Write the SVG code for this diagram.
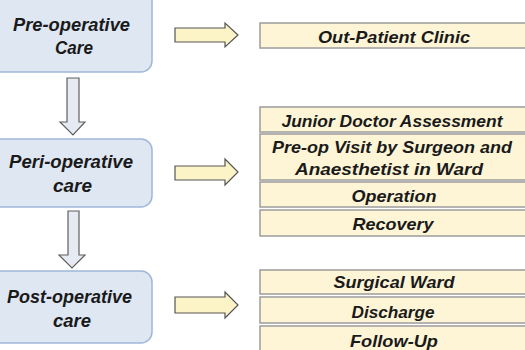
<svg xmlns="http://www.w3.org/2000/svg" width="525" height="350" viewBox="0 0 525 350">
  <style>
    .stage { fill: #dfe7f3; stroke: #9fb8d8; stroke-width: 1.5; }
    .step { fill: #fdf5d6; stroke: #9c9c9c; stroke-width: 1.5; }
    .fwd { fill: #fcf3c6; stroke: #555; stroke-width: 1.2; }
    .down { fill: #e6ebf3; stroke: #5f5f5f; stroke-width: 1.2; }
    text { font-family: "Liberation Sans", Arial, sans-serif; font-weight: bold; font-style: italic; font-size: 16.5px; fill: #1a1a1a; text-anchor: middle; }
    .stage-label { font-size: 17.5px; }
  </style>

  <!-- stages -->
  <g id="pre-operative">
    <rect class="stage" x="-10" y="-10" width="162" height="82" rx="11"/>
    <text class="stage-label" x="71.5" y="31" textLength="117" lengthAdjust="spacingAndGlyphs">Pre-operative</text>
    <text class="stage-label" x="74" y="54" textLength="38" lengthAdjust="spacingAndGlyphs">Care</text>
  </g>
  <g id="peri-operative">
    <rect class="stage" x="-10" y="139" width="162" height="68" rx="11"/>
    <text class="stage-label" x="71" y="168" textLength="124" lengthAdjust="spacingAndGlyphs">Peri-operative</text>
    <text class="stage-label" x="72.5" y="192" textLength="39" lengthAdjust="spacingAndGlyphs">care</text>
  </g>
  <g id="post-operative">
    <rect class="stage" x="-10" y="271" width="162" height="72" rx="11"/>
    <text class="stage-label" x="69.5" y="303" textLength="125" lengthAdjust="spacingAndGlyphs">Post-operative</text>
    <text class="stage-label" x="72" y="327" textLength="38" lengthAdjust="spacingAndGlyphs">care</text>
  </g>

  <!-- steps -->
  <g id="out-patient">
    <rect class="step" x="260" y="23" width="270" height="25"/>
    <text x="394" y="43" textLength="152" lengthAdjust="spacingAndGlyphs">Out-Patient Clinic</text>
  </g>
  <g id="junior-doctor">
    <rect class="step" x="260" y="107" width="270" height="25"/>
    <text x="392" y="127" textLength="221" lengthAdjust="spacingAndGlyphs">Junior Doctor Assessment</text>
  </g>
  <g id="pre-op-visit">
    <rect class="step" x="260" y="134" width="270" height="46"/>
    <text x="392" y="153" textLength="240" lengthAdjust="spacingAndGlyphs">Pre-op Visit by Surgeon and</text>
    <text x="389" y="175" textLength="188" lengthAdjust="spacingAndGlyphs">Anaesthetist in Ward</text>
  </g>
  <g id="operation">
    <rect class="step" x="260" y="182" width="270" height="25"/>
    <text x="394" y="202" textLength="85" lengthAdjust="spacingAndGlyphs">Operation</text>
  </g>
  <g id="recovery">
    <rect class="step" x="260" y="210" width="270" height="26"/>
    <text x="393" y="230" textLength="81" lengthAdjust="spacingAndGlyphs">Recovery</text>
  </g>
  <g id="surgical-ward">
    <rect class="step" x="260" y="270" width="270" height="24"/>
    <text x="394" y="288" textLength="121" lengthAdjust="spacingAndGlyphs">Surgical Ward</text>
  </g>
  <g id="discharge">
    <rect class="step" x="260" y="297" width="270" height="26"/>
    <text x="393" y="318" textLength="83" lengthAdjust="spacingAndGlyphs">Discharge</text>
  </g>
  <g id="follow-up">
    <rect class="step" x="260" y="326" width="270" height="30"/>
    <text x="394" y="347" textLength="88" lengthAdjust="spacingAndGlyphs">Follow-Up</text>
  </g>

  <!-- block arrows -->
  <g id="connectors">
    <polygon class="fwd" points="175,28 225,28 225,23 238,35 225,47 225,42 175,42"/>
    <polygon class="fwd" points="175,166 225,166 225,159 238,172 225,185 225,180 175,180"/>
    <polygon class="fwd" points="175,297 225,297 225,292 238,305 225,318 225,313 175,313"/>
    <polygon class="down" points="67,78 79,78 79,122 85,122 73,135 60,122 67,122"/>
    <polygon class="down" points="68,211 79,211 79,255 85,255 72,268 59,255 68,255"/>
  </g>
</svg>
